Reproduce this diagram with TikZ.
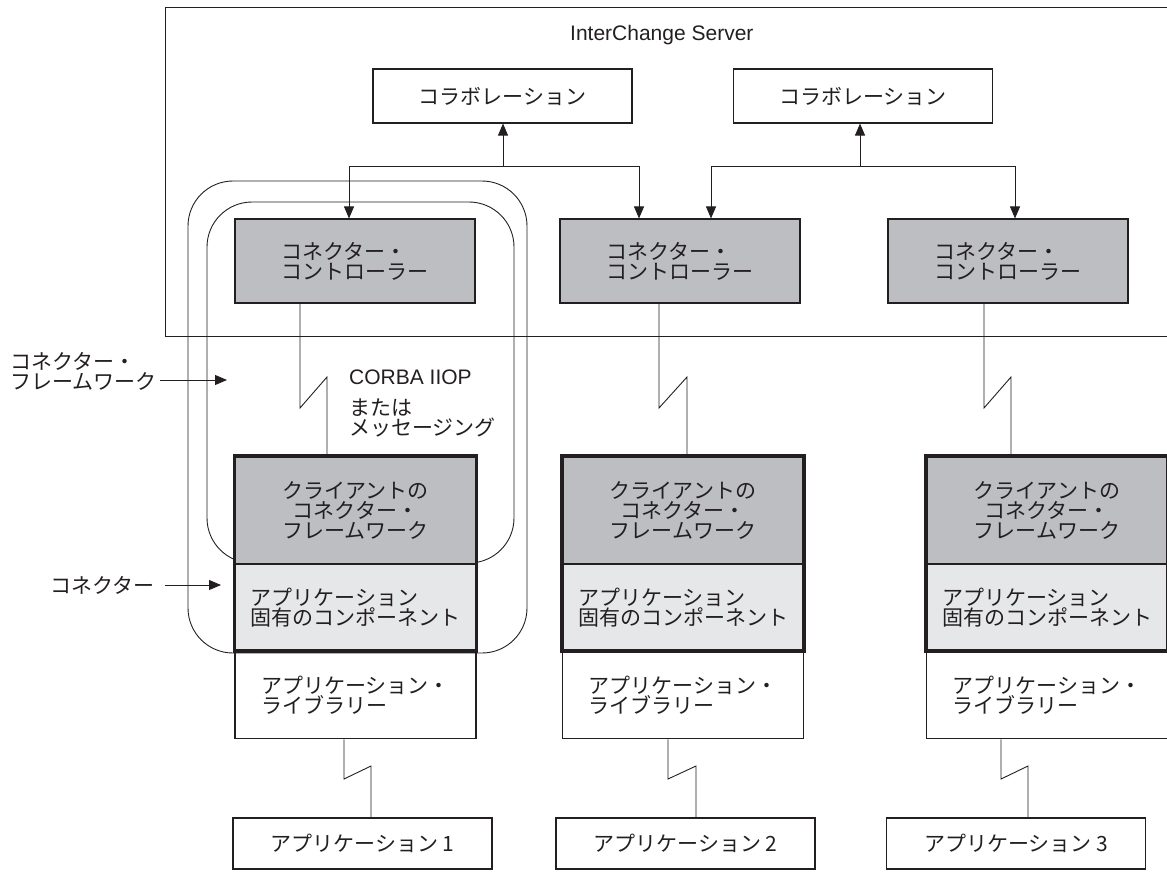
\documentclass[tikz,border=0pt]{standalone}
\usepackage{fontspec}
\setmainfont{Noto Sans CJK JP}
\newfontfamily\latinfont{Liberation Sans}
\usetikzlibrary{arrows.meta,calc}
\definecolor{ink}{RGB}{35,31,32}
\definecolor{fwgray}{RGB}{189,190,194}
\definecolor{compgray}{RGB}{230,231,233}

\begin{document}
\begin{tikzpicture}[x=1pt,y=-1pt,>={Triangle[length=12pt,width=10pt]},
  every node/.style={font=\fontsize{21}{20}\selectfont,text=ink,inner sep=0pt},
  wire/.style={draw=ink,line width=0.9pt},
  box/.style={draw=ink,line width=1.1pt,minimum width=241pt},
  collab/.style={box,minimum width=259pt,minimum height=54pt},
  ctrl/.style={box,fill=fwgray,minimum width=240pt,minimum height=84pt,align=left},
  cfw/.style={box,fill=fwgray,minimum height=107pt,align=center},
  comp/.style={box,fill=compgray,minimum height=86pt,align=left},
  lib/.style={box,minimum height=87pt,align=left},
  app/.style={box,minimum width=259pt,minimum height=51pt},
  latin/.style={font=\latinfont\fontsize{21}{20}\selectfont}]
  \useasboundingbox (0,0) rectangle (1167,871);

  % server
  \draw[wire,line width=1pt] (1200,7) -- (165,7) -- (165,336) -- (1200,336);
  \node[latin,anchor=west] (srv) at (570,35) {InterChange Server};

  % connector and connector framework
  \draw[wire,rounded corners=45pt] (188,181) rectangle (527,653);
  \draw[wire,rounded corners=45pt] (207,202) rectangle (514,563);

  \node[collab] (col1) at (502.5,96) {コラボレーション};
  \node[collab] (col2) at (863,96) {コラボレーション};

  \foreach \i/\x in {1/355, 2/680, 3/1008}
    \node[ctrl] (cc\i) at (\x,261) {コネクター・\\コントローラー};

  \foreach \i/\x in {1/355.5, 2/683, 3/1047} {
    \node[cfw,anchor=north] (cf\i) at (\x,456) {クライアントの\\コネクター・\\フレームワーク};
    \node[comp,anchor=north] (ac\i) at (cf\i.south) {アプリケーション\\固有のコンポーネント};
    \draw[draw=ink,line width=3.5pt] (cf\i.north west) rectangle (ac\i.south east);
    \node[lib,anchor=north] (lib\i) at (ac\i.south) {アプリケーション・\\ライブラリー};
  }

  \foreach \i/\x in {1/362.5, 2/685.5, 3/1016}
    \node[app] (app\i) at (\x,843.5) {アプリケーション \i};

  % collaboration links
  \coordinate (j1) at (503,166);
  \coordinate (j2) at (860,166);
  \coordinate (d1) at (349,166);
  \coordinate (d2) at (639,166);
  \coordinate (d3) at (711,166);
  \coordinate (d4) at (1015,166);
  \draw[wire,->] (j1) -- (j1 |- col1.south);
  \draw[wire,->] (j2) -- (j2 |- col2.south);
  \draw[wire,->] (d1) -- (d2 |- j1) (d1) -- (d1 |- cc1.north);
  \draw[wire,->] (d2) -- (d2 |- cc2.north);
  \draw[wire,->] (d3) -- (d4) (d3) -- (d3 |- cc2.north);
  \draw[wire,->] (d4) -- (d4 |- cc3.north);

  % links to the clients
  \foreach \i/\xa/\xb in {1/300/327, 2/659/687, 3/984/1011}
    \draw[wire] (\xa,0 |- cc\i.south) -- (\xa,408) -- (\xb,377) -- (\xb,0 |- cf\i.north);
  \foreach \i/\xa/\xb in {1/344/371, 2/668/696, 3/1001/1028}
    \draw[wire] (\xa,0 |- lib\i.south) -- (\xa,779) -- (\xb,766) -- (\xb,0 |- app\i.north);

  \node[latin,anchor=west] (corba) at (349,377) {CORBA IIOP};
  \node[anchor=west,align=left] (msg) at (349,417.5) {または\\メッセージング};

  % labels on the left
  \node[anchor=west,align=left] (lfw) at (10,371) {コネクター・\\フレームワーク};
  \coordinate (lfwend) at (227,380);
  \draw[wire,->,shorten <=3pt] (lfwend -| lfw.east) -- (lfwend);
  \node[anchor=west] (lconn) at (50,585) {コネクター};
  \coordinate (lconnend) at (221,585);
  \draw[wire,->,shorten <=10pt] (lconn.east) -- (lconnend);
\end{tikzpicture}
\end{document}
